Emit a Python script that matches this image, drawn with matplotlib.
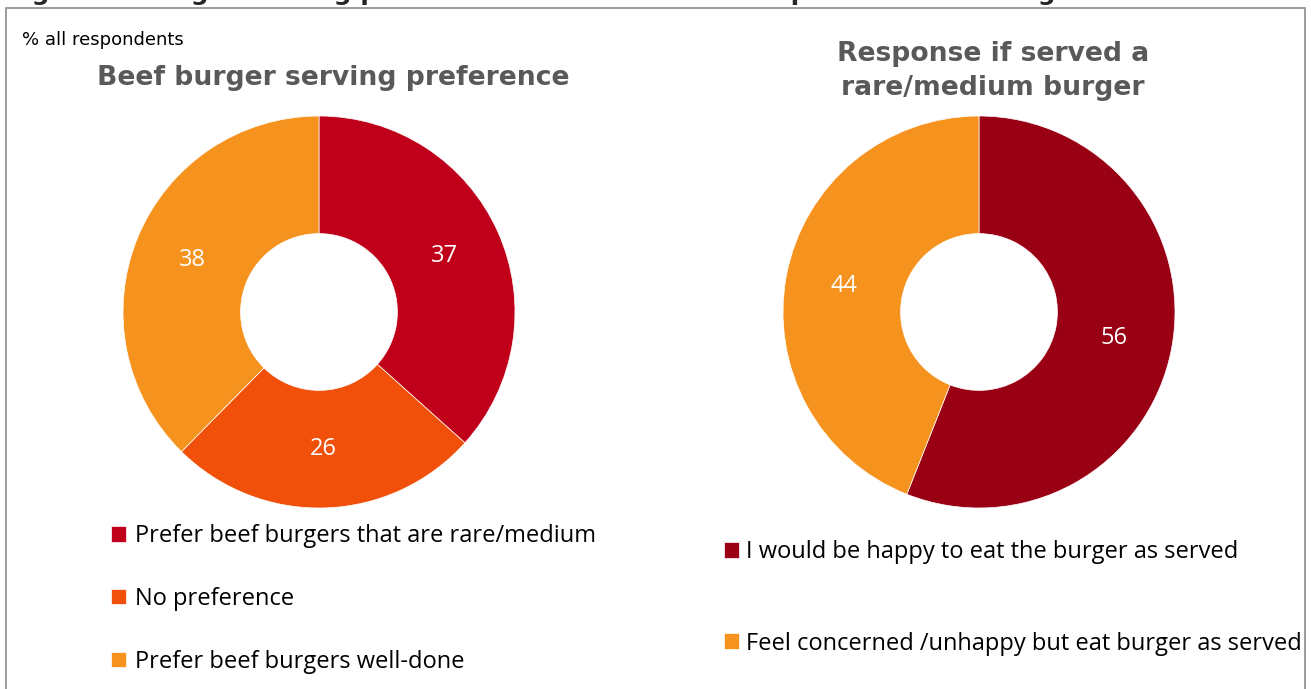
import matplotlib
matplotlib.use("Agg")
import matplotlib.pyplot as plt
from matplotlib.patches import Rectangle

# Survey shares (% of all respondents)
pref_labels = ["Prefer beef burgers that are rare/medium",
               "No preference",
               "Prefer beef burgers well-done"]
pref_values = [37, 26, 38]
pref_colors = ["#C0001A", "#F0500A", "#F6921E"]

resp_labels = ["I would be happy to eat the burger as served",
               "Feel concerned /unhappy but eat burger as served"]
resp_values = [56, 44]
resp_colors = ["#990014", "#F6921E"]

W, H = 1311, 689
fig = plt.figure(figsize=(W / 100, H / 100), dpi=100)
fig.patch.set_facecolor("white")

body_font = ["Open Sans", "DejaVu Sans"]
title_font = ["DejaVu Sans"]


def px_axes(cx, cy, r):
    """Axes box (figure fraction) for a pie centred at pixel (cx, cy) with radius r."""
    return fig.add_axes([(cx - r) / W, (H - cy - r) / H, 2 * r / W, 2 * r / H])


# Frame around the chart area
fig.add_artist(Rectangle((6 / W, -0.01), (1305 - 6) / W, (H - 8) / H + 0.01,
                         transform=fig.transFigure, fill=False,
                         edgecolor="#8C8C8C", linewidth=1.2))

# Figure caption, partly above the frame
fig.text(6 / W, 1.0,
         "Figure 4: Burger serving preferences and consumer response to rare burgers",
         ha="left", va="baseline", fontsize=18, fontweight="bold",
         color="#262626", family=title_font)

fig.text(22 / W, 1 - 40 / H, "% all respondents", ha="left", va="center",
         fontsize=13, color="black", family=title_font)


def donut(ax, values, colors):
    wedges, _, autotexts = ax.pie(
        values, colors=colors, startangle=90, counterclock=False,
        radius=1.0, wedgeprops=dict(width=0.6, edgecolor="white", linewidth=0.5),
        autopct=lambda p: "", pctdistance=0.7)
    for t, v in zip(autotexts, values):
        t.set_text(f"{v}")
        t.set_color("white")
        t.set_fontsize(17)
        t.set_family(body_font)
    ax.set_xlim(-1, 1)
    ax.set_ylim(-1, 1)
    ax.set_aspect("equal")
    ax.axis("off")
    return wedges


ax1 = px_axes(319, 312, 196)
w1 = donut(ax1, pref_values, pref_colors)
ax2 = px_axes(979, 312, 196)
w2 = donut(ax2, resp_values, resp_colors)

fig.text(333 / W, 1 - 78 / H, "Beef burger serving preference", ha="center",
         va="center", fontsize=19.2, fontweight="bold", color="#595959",
         family=title_font)
fig.text(993 / W, 1 - 71 / H, "Response if served a\nrare/medium burger",
         ha="center", va="center", fontsize=19.2, fontweight="bold",
         color="#595959", family=title_font, linespacing=1.36)

leg_kw = dict(frameon=False, handlelength=0.64, handleheight=0.64,
              prop=dict(family=body_font, size=17), borderpad=0,
              borderaxespad=0)
fig.legend(w1, pref_labels, loc="upper left",
           bbox_to_anchor=(111 / W, 1 - 524 / H), labelspacing=1.65,
           handletextpad=0.38, **leg_kw)
fig.legend(w2, resp_labels, loc="upper left",
           bbox_to_anchor=(724 / W, 1 - 540 / H), labelspacing=2.86,
           handletextpad=0.3, **leg_kw)

fig.savefig("out.png", dpi=100, facecolor="white")
